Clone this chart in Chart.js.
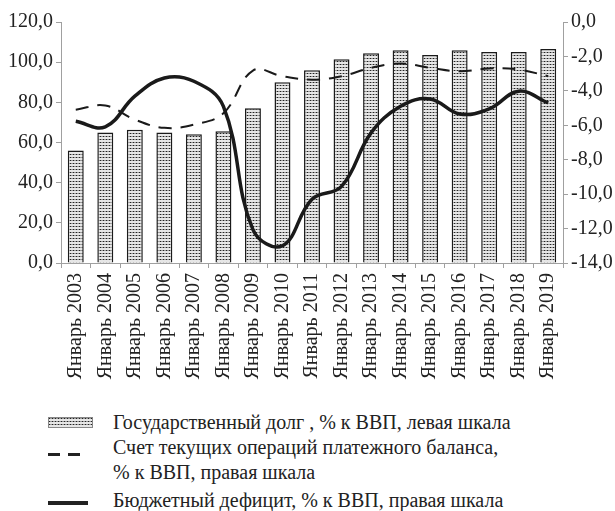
<!DOCTYPE html>
<html>
<head>
<meta charset="utf-8">
<script src="https://cdn.jsdelivr.net/npm/chart.js@4/dist/chart.umd.min.js"></script>
<style>
  body { margin: 0; background: #fff; }
  #wrap { position: relative; width: 615px; height: 511px; }
  #chart { position: absolute; left: 0; top: 0; }
  .legend { position: absolute; left: 0; top: 0; font-family: 'Liberation Serif', 'Times New Roman', 'DejaVu Serif', serif; font-size: 20px; color: #222; }
  .row { position: absolute; left: 113px; white-space: nowrap; line-height: 20px; }
  .sym { position: absolute; }
</style>
</head>
<body>
<div id="wrap">
  <canvas id="chart" width="615" height="395"></canvas>
  <div class="legend">
    <canvas class="sym" id="symBar" width="45" height="11" style="left:48px;top:417px"></canvas>
    <div class="sym" style="left:48px;top:453px;width:12px;height:3px;background:#222"></div>
    <div class="sym" style="left:68px;top:453px;width:12px;height:3px;background:#222"></div>
    <div class="sym" style="left:48px;top:501px;width:40px;height:4px;background:#222"></div>
    <div class="row" style="top:412px">Государственный долг , % к ВВП, левая шкала</div>
    <div class="row" style="top:437px">Счет текущих операций платежного баланса,</div>
    <div class="row" style="top:462px">% к ВВП, правая шкала</div>
    <div class="row" style="top:490px">Бюджетный дефицит, % к ВВП, правая шкала</div>
  </div>
</div>
<script>
const years = ['Январь 2003', 'Январь 2004', 'Январь 2005', 'Январь 2006', 'Январь 2007',
  'Январь 2008', 'Январь 2009', 'Январь 2010', 'Январь 2011', 'Январь 2012', 'Январь 2013',
  'Январь 2014', 'Январь 2015', 'Январь 2016', 'Январь 2017', 'Январь 2018', 'Январь 2019'];
// госдолг, % к ВВП (левая шкала)
const debt = [56, 65, 66.4, 65, 64.1, 65.6, 77, 90, 96, 101.4, 104.4, 105.9, 103.6, 105.9, 105.1, 105.1, 106.6];
// счет текущих операций, % к ВВП (правая шкала)
const currentAccount = [-5.1, -4.85, -5.67, -6.15, -5.96, -5.3, -2.82, -3.15, -3.35, -3.15, -2.66, -2.41, -2.66, -2.86, -2.7, -2.76, -3.15];
// бюджетный дефицит, % к ВВП (правая шкала)
const budget = [-5.77, -6.09, -4.31, -3.25, -3.44, -4.9, -12.06, -13.0, -10.3, -9.55, -6.44, -4.9, -4.47, -5.34, -5.05, -4.02, -4.7];

const axisGrey = '#a0a0a0';
const font = { family: "'Liberation Serif', 'Times New Roman', 'DejaVu Serif', serif", size: 20 };

// точечная заливка столбиков
function dotPattern(ctx) {
  const tile = document.createElement('canvas');
  tile.width = 3; tile.height = 3;
  const t = tile.getContext('2d');
  t.fillStyle = '#e6e6e6';
  t.fillRect(0, 0, 3, 3);
  t.fillStyle = '#9a9a9a';
  t.fillRect(0, 1, 3, 1);
  t.fillStyle = '#222';
  t.fillRect(1, 1, 1, 1);
  return ctx.createPattern(tile, 'repeat');
}

const symCtx = document.getElementById('symBar').getContext('2d');
symCtx.fillStyle = dotPattern(symCtx);
symCtx.fillRect(0, 0, 45, 11);
symCtx.strokeStyle = '#888';
symCtx.strokeRect(0.5, 0.5, 44, 10);

const fmt = v => v.toFixed(1).replace('.', ',');

const ctx = document.getElementById('chart').getContext('2d');
new Chart(ctx, {
  type: 'bar',
  data: {
    labels: years,
    datasets: [
      {
        type: 'line',
        data: budget,
        yAxisID: 'y2',
        borderColor: '#1a1a1a',
        borderWidth: 3.5,
        pointRadius: 0,
        tension: 0.4,
        fill: false,
        order: 1
      },
      {
        type: 'line',
        data: currentAccount,
        yAxisID: 'y2',
        borderColor: '#1a1a1a',
        borderWidth: 2,
        borderDash: [13, 9],
        pointRadius: 0,
        tension: 0.4,
        fill: false,
        order: 2
      },
      {
        data: debt,
        yAxisID: 'y',
        backgroundColor: dotPattern(ctx),
        borderColor: '#1a1a1a',
        borderWidth: 1.5,
        barPercentage: 0.54,
        categoryPercentage: 1,
        order: 3
      }
    ]
  },
  options: {
    responsive: false,
    animation: false,
    layout: { padding: { top: 22, left: 0, right: 0, bottom: 0 } },
    plugins: { legend: { display: false }, tooltip: { enabled: false } },
    scales: {
      x: {
        border: { color: axisGrey },
        grid: { drawOnChartArea: false, color: axisGrey, tickLength: 5 },
        ticks: { color: '#222', font: font, minRotation: 90, maxRotation: 90, padding: 5 },
        afterFit: s => { s.height = 132; }
      },
      y: {
        position: 'left',
        min: 0, max: 120,
        border: { color: axisGrey },
        grid: { drawOnChartArea: false, color: axisGrey, tickLength: 5 },
        ticks: { stepSize: 20, color: '#222', font: font, padding: 3, callback: fmt },
        afterFit: s => { s.width = 61; }
      },
      y2: {
        position: 'right',
        min: -14, max: 0,
        border: { color: axisGrey },
        grid: { drawOnChartArea: false, color: axisGrey, tickLength: 5 },
        ticks: { stepSize: 2, color: '#222', font: font, padding: 3, callback: fmt },
        afterFit: s => { s.width = 52; }
      }
    }
  }
});
</script>
</body>
</html>
